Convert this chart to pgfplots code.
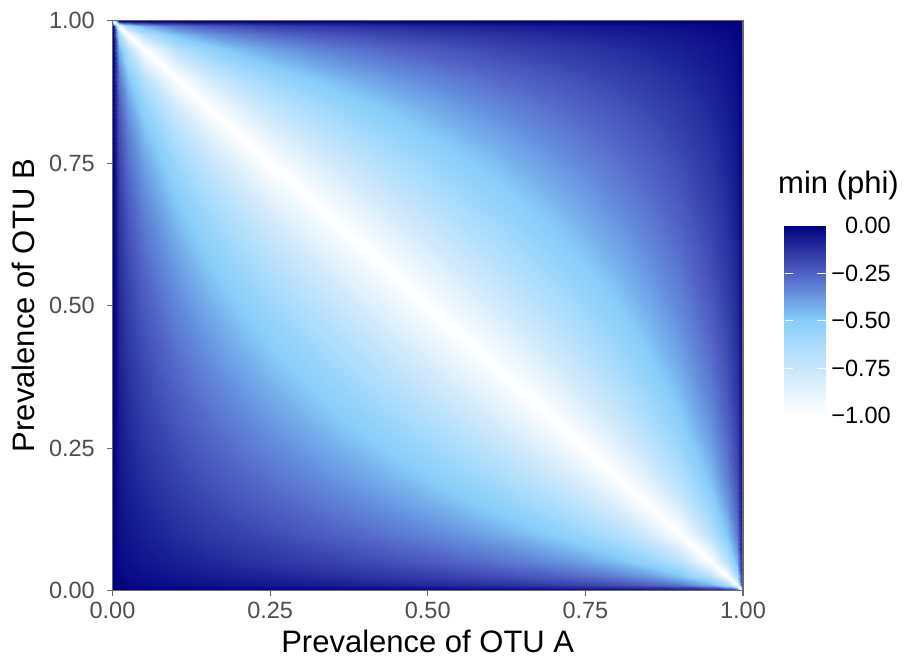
\documentclass[border=0pt]{standalone}
\usepackage{pgfplots}
\pgfplotsset{compat=1.18}
\usepackage{fontspec}
\setmainfont{Liberation Sans}
\definecolor{tickgrey}{RGB}{77,77,77}
\definecolor{framegrey}{RGB}{105,105,105}

\begin{document}
\begin{tikzpicture}
\useasboundingbox (0,0) rectangle (904pt,667pt);
\begin{axis}[
    at={(112.5pt,76.3pt)}, anchor=south west,
    scale only axis,
    width=630.5pt, height=570pt,
    xmin=0, xmax=1, ymin=0, ymax=1,
    axis on top,
    colormap={phimap}{
        rgb255=(255,255,255) rgb255=(228,243,253) rgb255=(200,231,252)
        rgb255=(168,219,251) rgb255=(135,206,250) rgb255=(105,152,225)
        rgb255=(80,98,195) rgb255=(42,50,160) rgb255=(0,0,128)},
    point meta min=-1, point meta max=0,
    xtick={0,0.25,0.5,0.75,1}, ytick={0,0.25,0.5,0.75,1},
    xticklabels={0.00,0.25,0.50,0.75,1.00},
    yticklabels={0.00,0.25,0.50,0.75,1.00},
    xtick pos=bottom, ytick pos=left,
    tick align=outside, major tick length=5pt,
    tick style={framegrey, line width=1.2pt},
    ticklabel style={font=\fontsize{23.5}{28}\selectfont, text=tickgrey, inner sep=0pt},
    xticklabel style={yshift=-6.3pt},
    yticklabel style={xshift=-12.5pt},
    axis line style={framegrey, line width=1.4pt},
    label style={font=\fontsize{31}{37}\selectfont},
    xlabel={Prevalence of OTU A},
    ylabel={Prevalence of OTU B},
    xlabel style={at={(axis description cs:0.5,0)}, anchor=base, yshift=-61.6pt},
    ylabel style={at={(axis description cs:0,0.5)}, anchor=base, yshift=77.5pt},
    colorbar,
    colorbar/width=41pt,
    colorbar style={
        at={(parent axis.south east)}, anchor=south west,
        xshift=33pt, yshift=175pt,
        scale only axis, width=41pt, height=190pt,
        ytick={-1,-0.75,-0.5,-0.25,0},
        yticklabels={−1.00,−0.75,−0.50,−0.25,0.00},
        ytick pos=both, yticklabel pos=right,
        tick align=inside, major tick length=8.2pt,
        tick style={white, line width=1.1pt},
        axis line style={draw=none},
        yticklabel style={font=\fontsize{23.5}{28}\selectfont, text=black,
            anchor=west, inner sep=0pt, text width=60pt, align=right, xshift=5pt},
    },
]
\addplot[surf, shader=interp, mesh/cols=25, point meta=explicit] coordinates {
(0,0)[0] (0.01,0)[0] (0.025,0)[0] (0.05,0)[0] (0.1,0)[0] (0.15,0)[0] (0.2,0)[0] (0.25,0)[0] (0.3,0)[0] (0.35,0)[0] (0.4,0)[0] (0.45,0)[0] (0.5,0)[0] (0.55,0)[0] (0.6,0)[0] (0.65,0)[0] (0.7,0)[0] (0.75,0)[0] (0.8,0)[0] (0.85,0)[0] (0.9,0)[0] (0.95,0)[0] (0.975,0)[0] (0.99,0)[0] (1,0)[-1]
(0,0.01)[0] (0.01,0.01)[-0.0101] (0.025,0.01)[-0.0161] (0.05,0.01)[-0.0231] (0.1,0.01)[-0.0335] (0.15,0.01)[-0.0422] (0.2,0.01)[-0.0503] (0.25,0.01)[-0.0580] (0.3,0.01)[-0.0658] (0.35,0.01)[-0.0738] (0.4,0.01)[-0.0821] (0.45,0.01)[-0.0909] (0.5,0.01)[-0.1005] (0.55,0.01)[-0.1111] (0.6,0.01)[-0.1231] (0.65,0.01)[-0.1370] (0.7,0.01)[-0.1535] (0.75,0.01)[-0.1741] (0.8,0.01)[-0.2010] (0.85,0.01)[-0.2392] (0.9,0.01)[-0.3015] (0.95,0.01)[-0.4381] (0.975,0.01)[-0.6276] (0.99,0.01)[-1] (1,0.01)[0]
(0,0.025)[0] (0.01,0.025)[-0.0161] (0.025,0.025)[-0.0256] (0.05,0.025)[-0.0367] (0.1,0.025)[-0.0534] (0.15,0.025)[-0.0673] (0.2,0.025)[-0.0801] (0.25,0.025)[-0.0925] (0.3,0.025)[-0.1048] (0.35,0.025)[-0.1175] (0.4,0.025)[-0.1307] (0.45,0.025)[-0.1448] (0.5,0.025)[-0.1601] (0.55,0.025)[-0.1770] (0.6,0.025)[-0.1961] (0.65,0.025)[-0.2182] (0.7,0.025)[-0.2446] (0.75,0.025)[-0.2774] (0.8,0.025)[-0.3203] (0.85,0.025)[-0.3812] (0.9,0.025)[-0.4804] (0.95,0.025)[-0.6980] (0.975,0.025)[-1] (0.99,0.025)[-0.6276] (1,0.025)[0]
(0,0.05)[0] (0.01,0.05)[-0.0231] (0.025,0.05)[-0.0367] (0.05,0.05)[-0.0526] (0.1,0.05)[-0.0765] (0.15,0.05)[-0.0964] (0.2,0.05)[-0.1147] (0.25,0.05)[-0.1325] (0.3,0.05)[-0.1502] (0.35,0.05)[-0.1683] (0.4,0.05)[-0.1873] (0.45,0.05)[-0.2075] (0.5,0.05)[-0.2294] (0.55,0.05)[-0.2536] (0.6,0.05)[-0.2810] (0.65,0.05)[-0.3126] (0.7,0.05)[-0.3504] (0.75,0.05)[-0.3974] (0.8,0.05)[-0.4588] (0.85,0.05)[-0.5461] (0.9,0.05)[-0.6882] (0.95,0.05)[-1] (0.975,0.05)[-0.6980] (0.99,0.05)[-0.4381] (1,0.05)[0]
(0,0.1)[0] (0.01,0.1)[-0.0335] (0.025,0.1)[-0.0534] (0.05,0.1)[-0.0765] (0.1,0.1)[-0.1111] (0.15,0.1)[-0.1400] (0.2,0.1)[-0.1667] (0.25,0.1)[-0.1925] (0.3,0.1)[-0.2182] (0.35,0.1)[-0.2446] (0.4,0.1)[-0.2722] (0.45,0.1)[-0.3015] (0.5,0.1)[-0.3333] (0.55,0.1)[-0.3685] (0.6,0.1)[-0.4082] (0.65,0.1)[-0.4543] (0.7,0.1)[-0.5092] (0.75,0.1)[-0.5774] (0.8,0.1)[-0.6667] (0.85,0.1)[-0.7935] (0.9,0.1)[-1] (0.95,0.1)[-0.6882] (0.975,0.1)[-0.4804] (0.99,0.1)[-0.3015] (1,0.1)[0]
(0,0.15)[0] (0.01,0.15)[-0.0422] (0.025,0.15)[-0.0673] (0.05,0.15)[-0.0964] (0.1,0.15)[-0.1400] (0.15,0.15)[-0.1765] (0.2,0.15)[-0.2100] (0.25,0.15)[-0.2425] (0.3,0.15)[-0.2750] (0.35,0.15)[-0.3083] (0.4,0.15)[-0.3430] (0.45,0.15)[-0.3800] (0.5,0.15)[-0.4201] (0.55,0.15)[-0.4644] (0.6,0.15)[-0.5145] (0.65,0.15)[-0.5725] (0.7,0.15)[-0.6417] (0.75,0.15)[-0.7276] (0.8,0.15)[-0.8402] (0.85,0.15)[-1] (0.9,0.15)[-0.7935] (0.95,0.15)[-0.5461] (0.975,0.15)[-0.3812] (0.99,0.15)[-0.2392] (1,0.15)[0]
(0,0.2)[0] (0.01,0.2)[-0.0503] (0.025,0.2)[-0.0801] (0.05,0.2)[-0.1147] (0.1,0.2)[-0.1667] (0.15,0.2)[-0.2100] (0.2,0.2)[-0.2500] (0.25,0.2)[-0.2887] (0.3,0.2)[-0.3273] (0.35,0.2)[-0.3669] (0.4,0.2)[-0.4082] (0.45,0.2)[-0.4523] (0.5,0.2)[-0.5000] (0.55,0.2)[-0.5528] (0.6,0.2)[-0.6124] (0.65,0.2)[-0.6814] (0.7,0.2)[-0.7638] (0.75,0.2)[-0.8660] (0.8,0.2)[-1] (0.85,0.2)[-0.8402] (0.9,0.2)[-0.6667] (0.95,0.2)[-0.4588] (0.975,0.2)[-0.3203] (0.99,0.2)[-0.2010] (1,0.2)[0]
(0,0.25)[0] (0.01,0.25)[-0.0580] (0.025,0.25)[-0.0925] (0.05,0.25)[-0.1325] (0.1,0.25)[-0.1925] (0.15,0.25)[-0.2425] (0.2,0.25)[-0.2887] (0.25,0.25)[-0.3333] (0.3,0.25)[-0.3780] (0.35,0.25)[-0.4237] (0.4,0.25)[-0.4714] (0.45,0.25)[-0.5222] (0.5,0.25)[-0.5774] (0.55,0.25)[-0.6383] (0.6,0.25)[-0.7071] (0.65,0.25)[-0.7868] (0.7,0.25)[-0.8819] (0.75,0.25)[-1] (0.8,0.25)[-0.8660] (0.85,0.25)[-0.7276] (0.9,0.25)[-0.5774] (0.95,0.25)[-0.3974] (0.975,0.25)[-0.2774] (0.99,0.25)[-0.1741] (1,0.25)[0]
(0,0.3)[0] (0.01,0.3)[-0.0658] (0.025,0.3)[-0.1048] (0.05,0.3)[-0.1502] (0.1,0.3)[-0.2182] (0.15,0.3)[-0.2750] (0.2,0.3)[-0.3273] (0.25,0.3)[-0.3780] (0.3,0.3)[-0.4286] (0.35,0.3)[-0.4804] (0.4,0.3)[-0.5345] (0.45,0.3)[-0.5922] (0.5,0.3)[-0.6547] (0.55,0.3)[-0.7237] (0.6,0.3)[-0.8018] (0.65,0.3)[-0.8921] (0.7,0.3)[-1] (0.75,0.3)[-0.8819] (0.8,0.3)[-0.7638] (0.85,0.3)[-0.6417] (0.9,0.3)[-0.5092] (0.95,0.3)[-0.3504] (0.975,0.3)[-0.2446] (0.99,0.3)[-0.1535] (1,0.3)[0]
(0,0.35)[0] (0.01,0.35)[-0.0738] (0.025,0.35)[-0.1175] (0.05,0.35)[-0.1683] (0.1,0.35)[-0.2446] (0.15,0.35)[-0.3083] (0.2,0.35)[-0.3669] (0.25,0.35)[-0.4237] (0.3,0.35)[-0.4804] (0.35,0.35)[-0.5385] (0.4,0.35)[-0.5991] (0.45,0.35)[-0.6637] (0.5,0.35)[-0.7338] (0.55,0.35)[-0.8112] (0.6,0.35)[-0.8987] (0.65,0.35)[-1] (0.7,0.35)[-0.8921] (0.75,0.35)[-0.7868] (0.8,0.35)[-0.6814] (0.85,0.35)[-0.5725] (0.9,0.35)[-0.4543] (0.95,0.35)[-0.3126] (0.975,0.35)[-0.2182] (0.99,0.35)[-0.1370] (1,0.35)[0]
(0,0.4)[0] (0.01,0.4)[-0.0821] (0.025,0.4)[-0.1307] (0.05,0.4)[-0.1873] (0.1,0.4)[-0.2722] (0.15,0.4)[-0.3430] (0.2,0.4)[-0.4082] (0.25,0.4)[-0.4714] (0.3,0.4)[-0.5345] (0.35,0.4)[-0.5991] (0.4,0.4)[-0.6667] (0.45,0.4)[-0.7385] (0.5,0.4)[-0.8165] (0.55,0.4)[-0.9027] (0.6,0.4)[-1] (0.65,0.4)[-0.8987] (0.7,0.4)[-0.8018] (0.75,0.4)[-0.7071] (0.8,0.4)[-0.6124] (0.85,0.4)[-0.5145] (0.9,0.4)[-0.4082] (0.95,0.4)[-0.2810] (0.975,0.4)[-0.1961] (0.99,0.4)[-0.1231] (1,0.4)[0]
(0,0.45)[0] (0.01,0.45)[-0.0909] (0.025,0.45)[-0.1448] (0.05,0.45)[-0.2075] (0.1,0.45)[-0.3015] (0.15,0.45)[-0.3800] (0.2,0.45)[-0.4523] (0.25,0.45)[-0.5222] (0.3,0.45)[-0.5922] (0.35,0.45)[-0.6637] (0.4,0.45)[-0.7385] (0.45,0.45)[-0.8182] (0.5,0.45)[-0.9045] (0.55,0.45)[-1] (0.6,0.45)[-0.9027] (0.65,0.45)[-0.8112] (0.7,0.45)[-0.7237] (0.75,0.45)[-0.6383] (0.8,0.45)[-0.5528] (0.85,0.45)[-0.4644] (0.9,0.45)[-0.3685] (0.95,0.45)[-0.2536] (0.975,0.45)[-0.1770] (0.99,0.45)[-0.1111] (1,0.45)[0]
(0,0.5)[0] (0.01,0.5)[-0.1005] (0.025,0.5)[-0.1601] (0.05,0.5)[-0.2294] (0.1,0.5)[-0.3333] (0.15,0.5)[-0.4201] (0.2,0.5)[-0.5000] (0.25,0.5)[-0.5774] (0.3,0.5)[-0.6547] (0.35,0.5)[-0.7338] (0.4,0.5)[-0.8165] (0.45,0.5)[-0.9045] (0.5,0.5)[-1] (0.55,0.5)[-0.9045] (0.6,0.5)[-0.8165] (0.65,0.5)[-0.7338] (0.7,0.5)[-0.6547] (0.75,0.5)[-0.5774] (0.8,0.5)[-0.5000] (0.85,0.5)[-0.4201] (0.9,0.5)[-0.3333] (0.95,0.5)[-0.2294] (0.975,0.5)[-0.1601] (0.99,0.5)[-0.1005] (1,0.5)[0]
(0,0.55)[0] (0.01,0.55)[-0.1111] (0.025,0.55)[-0.1770] (0.05,0.55)[-0.2536] (0.1,0.55)[-0.3685] (0.15,0.55)[-0.4644] (0.2,0.55)[-0.5528] (0.25,0.55)[-0.6383] (0.3,0.55)[-0.7237] (0.35,0.55)[-0.8112] (0.4,0.55)[-0.9027] (0.45,0.55)[-1] (0.5,0.55)[-0.9045] (0.55,0.55)[-0.8182] (0.6,0.55)[-0.7385] (0.65,0.55)[-0.6637] (0.7,0.55)[-0.5922] (0.75,0.55)[-0.5222] (0.8,0.55)[-0.4523] (0.85,0.55)[-0.3800] (0.9,0.55)[-0.3015] (0.95,0.55)[-0.2075] (0.975,0.55)[-0.1448] (0.99,0.55)[-0.0909] (1,0.55)[0]
(0,0.6)[0] (0.01,0.6)[-0.1231] (0.025,0.6)[-0.1961] (0.05,0.6)[-0.2810] (0.1,0.6)[-0.4082] (0.15,0.6)[-0.5145] (0.2,0.6)[-0.6124] (0.25,0.6)[-0.7071] (0.3,0.6)[-0.8018] (0.35,0.6)[-0.8987] (0.4,0.6)[-1] (0.45,0.6)[-0.9027] (0.5,0.6)[-0.8165] (0.55,0.6)[-0.7385] (0.6,0.6)[-0.6667] (0.65,0.6)[-0.5991] (0.7,0.6)[-0.5345] (0.75,0.6)[-0.4714] (0.8,0.6)[-0.4082] (0.85,0.6)[-0.3430] (0.9,0.6)[-0.2722] (0.95,0.6)[-0.1873] (0.975,0.6)[-0.1307] (0.99,0.6)[-0.0821] (1,0.6)[0]
(0,0.65)[0] (0.01,0.65)[-0.1370] (0.025,0.65)[-0.2182] (0.05,0.65)[-0.3126] (0.1,0.65)[-0.4543] (0.15,0.65)[-0.5725] (0.2,0.65)[-0.6814] (0.25,0.65)[-0.7868] (0.3,0.65)[-0.8921] (0.35,0.65)[-1] (0.4,0.65)[-0.8987] (0.45,0.65)[-0.8112] (0.5,0.65)[-0.7338] (0.55,0.65)[-0.6637] (0.6,0.65)[-0.5991] (0.65,0.65)[-0.5385] (0.7,0.65)[-0.4804] (0.75,0.65)[-0.4237] (0.8,0.65)[-0.3669] (0.85,0.65)[-0.3083] (0.9,0.65)[-0.2446] (0.95,0.65)[-0.1683] (0.975,0.65)[-0.1175] (0.99,0.65)[-0.0738] (1,0.65)[0]
(0,0.7)[0] (0.01,0.7)[-0.1535] (0.025,0.7)[-0.2446] (0.05,0.7)[-0.3504] (0.1,0.7)[-0.5092] (0.15,0.7)[-0.6417] (0.2,0.7)[-0.7638] (0.25,0.7)[-0.8819] (0.3,0.7)[-1] (0.35,0.7)[-0.8921] (0.4,0.7)[-0.8018] (0.45,0.7)[-0.7237] (0.5,0.7)[-0.6547] (0.55,0.7)[-0.5922] (0.6,0.7)[-0.5345] (0.65,0.7)[-0.4804] (0.7,0.7)[-0.4286] (0.75,0.7)[-0.3780] (0.8,0.7)[-0.3273] (0.85,0.7)[-0.2750] (0.9,0.7)[-0.2182] (0.95,0.7)[-0.1502] (0.975,0.7)[-0.1048] (0.99,0.7)[-0.0658] (1,0.7)[0]
(0,0.75)[0] (0.01,0.75)[-0.1741] (0.025,0.75)[-0.2774] (0.05,0.75)[-0.3974] (0.1,0.75)[-0.5774] (0.15,0.75)[-0.7276] (0.2,0.75)[-0.8660] (0.25,0.75)[-1] (0.3,0.75)[-0.8819] (0.35,0.75)[-0.7868] (0.4,0.75)[-0.7071] (0.45,0.75)[-0.6383] (0.5,0.75)[-0.5774] (0.55,0.75)[-0.5222] (0.6,0.75)[-0.4714] (0.65,0.75)[-0.4237] (0.7,0.75)[-0.3780] (0.75,0.75)[-0.3333] (0.8,0.75)[-0.2887] (0.85,0.75)[-0.2425] (0.9,0.75)[-0.1925] (0.95,0.75)[-0.1325] (0.975,0.75)[-0.0925] (0.99,0.75)[-0.0580] (1,0.75)[0]
(0,0.8)[0] (0.01,0.8)[-0.2010] (0.025,0.8)[-0.3203] (0.05,0.8)[-0.4588] (0.1,0.8)[-0.6667] (0.15,0.8)[-0.8402] (0.2,0.8)[-1] (0.25,0.8)[-0.8660] (0.3,0.8)[-0.7638] (0.35,0.8)[-0.6814] (0.4,0.8)[-0.6124] (0.45,0.8)[-0.5528] (0.5,0.8)[-0.5000] (0.55,0.8)[-0.4523] (0.6,0.8)[-0.4082] (0.65,0.8)[-0.3669] (0.7,0.8)[-0.3273] (0.75,0.8)[-0.2887] (0.8,0.8)[-0.2500] (0.85,0.8)[-0.2100] (0.9,0.8)[-0.1667] (0.95,0.8)[-0.1147] (0.975,0.8)[-0.0801] (0.99,0.8)[-0.0503] (1,0.8)[0]
(0,0.85)[0] (0.01,0.85)[-0.2392] (0.025,0.85)[-0.3812] (0.05,0.85)[-0.5461] (0.1,0.85)[-0.7935] (0.15,0.85)[-1] (0.2,0.85)[-0.8402] (0.25,0.85)[-0.7276] (0.3,0.85)[-0.6417] (0.35,0.85)[-0.5725] (0.4,0.85)[-0.5145] (0.45,0.85)[-0.4644] (0.5,0.85)[-0.4201] (0.55,0.85)[-0.3800] (0.6,0.85)[-0.3430] (0.65,0.85)[-0.3083] (0.7,0.85)[-0.2750] (0.75,0.85)[-0.2425] (0.8,0.85)[-0.2100] (0.85,0.85)[-0.1765] (0.9,0.85)[-0.1400] (0.95,0.85)[-0.0964] (0.975,0.85)[-0.0673] (0.99,0.85)[-0.0422] (1,0.85)[0]
(0,0.9)[0] (0.01,0.9)[-0.3015] (0.025,0.9)[-0.4804] (0.05,0.9)[-0.6882] (0.1,0.9)[-1] (0.15,0.9)[-0.7935] (0.2,0.9)[-0.6667] (0.25,0.9)[-0.5774] (0.3,0.9)[-0.5092] (0.35,0.9)[-0.4543] (0.4,0.9)[-0.4082] (0.45,0.9)[-0.3685] (0.5,0.9)[-0.3333] (0.55,0.9)[-0.3015] (0.6,0.9)[-0.2722] (0.65,0.9)[-0.2446] (0.7,0.9)[-0.2182] (0.75,0.9)[-0.1925] (0.8,0.9)[-0.1667] (0.85,0.9)[-0.1400] (0.9,0.9)[-0.1111] (0.95,0.9)[-0.0765] (0.975,0.9)[-0.0534] (0.99,0.9)[-0.0335] (1,0.9)[0]
(0,0.95)[0] (0.01,0.95)[-0.4381] (0.025,0.95)[-0.6980] (0.05,0.95)[-1] (0.1,0.95)[-0.6882] (0.15,0.95)[-0.5461] (0.2,0.95)[-0.4588] (0.25,0.95)[-0.3974] (0.3,0.95)[-0.3504] (0.35,0.95)[-0.3126] (0.4,0.95)[-0.2810] (0.45,0.95)[-0.2536] (0.5,0.95)[-0.2294] (0.55,0.95)[-0.2075] (0.6,0.95)[-0.1873] (0.65,0.95)[-0.1683] (0.7,0.95)[-0.1502] (0.75,0.95)[-0.1325] (0.8,0.95)[-0.1147] (0.85,0.95)[-0.0964] (0.9,0.95)[-0.0765] (0.95,0.95)[-0.0526] (0.975,0.95)[-0.0367] (0.99,0.95)[-0.0231] (1,0.95)[0]
(0,0.975)[0] (0.01,0.975)[-0.6276] (0.025,0.975)[-1] (0.05,0.975)[-0.6980] (0.1,0.975)[-0.4804] (0.15,0.975)[-0.3812] (0.2,0.975)[-0.3203] (0.25,0.975)[-0.2774] (0.3,0.975)[-0.2446] (0.35,0.975)[-0.2182] (0.4,0.975)[-0.1961] (0.45,0.975)[-0.1770] (0.5,0.975)[-0.1601] (0.55,0.975)[-0.1448] (0.6,0.975)[-0.1307] (0.65,0.975)[-0.1175] (0.7,0.975)[-0.1048] (0.75,0.975)[-0.0925] (0.8,0.975)[-0.0801] (0.85,0.975)[-0.0673] (0.9,0.975)[-0.0534] (0.95,0.975)[-0.0367] (0.975,0.975)[-0.0256] (0.99,0.975)[-0.0161] (1,0.975)[0]
(0,0.99)[0] (0.01,0.99)[-1] (0.025,0.99)[-0.6276] (0.05,0.99)[-0.4381] (0.1,0.99)[-0.3015] (0.15,0.99)[-0.2392] (0.2,0.99)[-0.2010] (0.25,0.99)[-0.1741] (0.3,0.99)[-0.1535] (0.35,0.99)[-0.1370] (0.4,0.99)[-0.1231] (0.45,0.99)[-0.1111] (0.5,0.99)[-0.1005] (0.55,0.99)[-0.0909] (0.6,0.99)[-0.0821] (0.65,0.99)[-0.0738] (0.7,0.99)[-0.0658] (0.75,0.99)[-0.0580] (0.8,0.99)[-0.0503] (0.85,0.99)[-0.0422] (0.9,0.99)[-0.0335] (0.95,0.99)[-0.0231] (0.975,0.99)[-0.0161] (0.99,0.99)[-0.0101] (1,0.99)[0]
(0,1)[-1] (0.01,1)[0] (0.025,1)[0] (0.05,1)[0] (0.1,1)[0] (0.15,1)[0] (0.2,1)[0] (0.25,1)[0] (0.3,1)[0] (0.35,1)[0] (0.4,1)[0] (0.45,1)[0] (0.5,1)[0] (0.55,1)[0] (0.6,1)[0] (0.65,1)[0] (0.7,1)[0] (0.75,1)[0] (0.8,1)[0] (0.85,1)[0] (0.9,1)[0] (0.95,1)[0] (0.975,1)[0] (0.99,1)[0] (1,1)[0]
};
\end{axis}
\node[anchor=base west, inner sep=0pt, font=\fontsize{31}{37}\selectfont] at (778pt,473.7pt) {min (phi)};
\end{tikzpicture}
\end{document}
